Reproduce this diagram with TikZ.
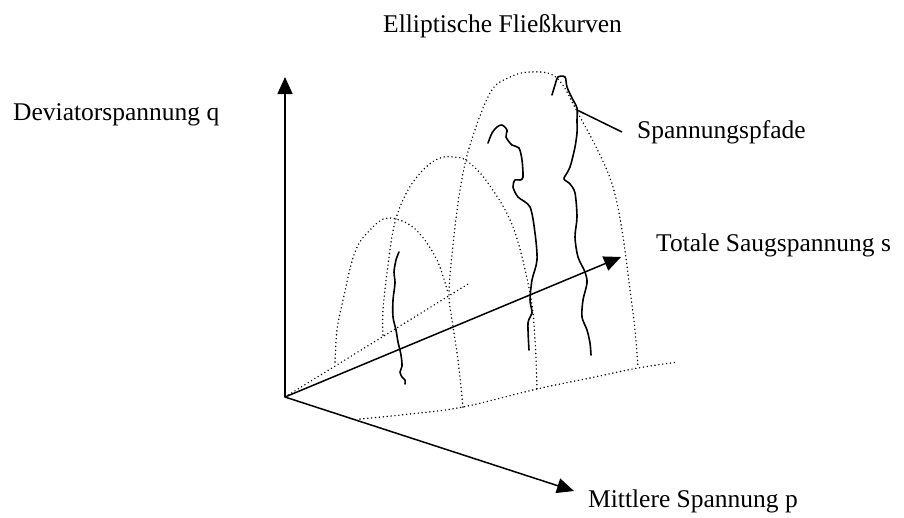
\documentclass[tikz,border=0pt]{standalone}
\usepackage{fontspec}
\setmainfont{Liberation Serif}
\usetikzlibrary{arrows.meta}
\begin{document}
\begin{tikzpicture}[x=1pt,y=-1pt,
  axis/.style={line width=1.5pt, -{Triangle[length=17pt,width=15pt]}},
  arch/.style={line width=1.6pt, line cap=round, dash pattern=on 0pt off 3.9pt},
  spath/.style={line width=1.6pt, line cap=round, line join=round},
  lbl/.style={anchor=base west, inner sep=0pt, font=\fontsize{25.5}{30}\selectfont}]
\useasboundingbox (0,0) rectangle (904,517);
% axes
\coordinate (O) at (285,397);
\coordinate (qtip) at (285,77);
\coordinate (stip) at (621,257);
\coordinate (ptip) at (574,491);
\draw[axis] (O) -- (qtip);
\draw[axis] (O) -- (stip);
\draw[axis] (O) -- (ptip);
% dotted base lines
\coordinate (send) at (468,284);
\draw[arch] (O) -- (send);
\draw[arch] plot[smooth, tension=0.6] coordinates {(360,419) (410,414) (463,407) (537,389) (590,378) (638,368) (678,362)};
% arches
\draw[arch] plot[smooth, tension=0.6] coordinates {(335,362) (337,330) (343,300) (355,252) (370,230) (388,218) (414,228) (436,258) (448,293)};
\draw[arch] plot[smooth, tension=0.6] coordinates {(383,335) (383,310) (388,265) (395,222) (408,190) (425,168) (440,158) (453,157) (467,161) (488,183) (513,227) (530,293) (535,340) (537,390)};
\draw[arch] plot[smooth, tension=0.6] coordinates {(463,407) (458,360) (452,320) (449,293) (453,245) (460,190) (470,145) (490,93) (508,78) (530,72) (557,78) (580,117) (600,155) (613,187) (622,230) (630,290) (635,330) (638,368)};
% stress paths
\draw[spath] plot[smooth, tension=0.5] coordinates {(399,252) (396,260) (394,272) (395,283) (393,300) (393,317) (396,330) (398,342) (401,355) (402,366) (400,372) (402,377) (405,380) (405,384)};
\draw[spath] plot[smooth, tension=0.5] coordinates {(488,143) (492,133) (497,127) (502,125) (507,130) (506,137) (512,145) (519,148) (522,160) (523,177) (520,180) (515,180) (513,187) (518,197) (530,207) (535,233) (537,260) (532,280) (530,300) (532,313) (528,323) (529,350)};
\draw[spath] plot[smooth, tension=0.5] coordinates {(552,95) (555,85) (558,77) (565,77) (567,87) (572,98) (577,108) (577,120) (577,133) (575,147) (572,160) (570,167) (567,173) (564,179) (570,184) (575,193) (577,217) (575,237) (578,257) (585,272) (587,283) (583,300) (582,317) (587,330) (590,343) (591,355)};
% labels
\node[lbl] (title) at (383,32) {Elliptische Fließkurven};
\node[lbl] (qlab) at (13,120) {Deviatorspannung q};
\node[lbl] (splab) at (637,138) {Spannungspfade};
\node[lbl] (slab) at (656,251) {Totale Saugspannung s};
\node[lbl] (plab) at (588,507) {Mittlere Spannung p};
% leader
\coordinate (lstart) at (577,110);
\coordinate (lend) at (622,132);
\draw[line width=1.5pt] (lstart) -- (lend);
\end{tikzpicture}
\end{document}
